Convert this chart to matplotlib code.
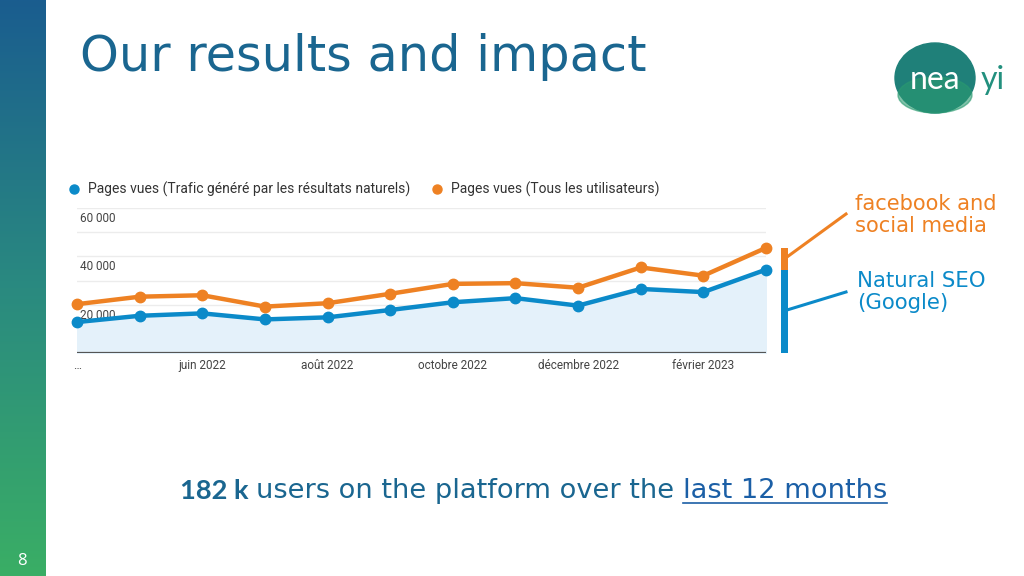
import numpy as np
import matplotlib
matplotlib.use("Agg")
import matplotlib.pyplot as plt
from matplotlib.patches import Ellipse
from matplotlib.colors import LinearSegmentedColormap
import matplotlib.transforms as mtransforms

# ------------------------------------------------------------------
# Data – monthly page views
# ------------------------------------------------------------------
months = ["avr. 2022", "mai 2022", "juin 2022", "juil. 2022", "août 2022", "sept. 2022",
          "octobre 2022", "nov. 2022", "décembre 2022", "janv. 2023", "février 2023", "mars 2023"]
seo_views = [12800, 15400, 16400, 13900, 14750, 17800, 21000, 22700, 19600, 26500, 25200, 34500]
all_views = [20200, 23300, 23900, 19200, 20600, 24500, 28600, 28900, 27000, 35400, 32000, 43500]
shown_ticks = [0, 2, 4, 6, 8, 10]
tick_labels = ["…", "juin 2022", "août 2022", "octobre 2022", "décembre 2022", "février 2023"]
y_labels = [20000, 40000, 60000]

legend_seo = "Pages vues (Trafic généré par les résultats naturels)"
legend_all = "Pages vues (Tous les utilisateurs)"

BLUE = "#0b8ac9"
ORANGE = "#ee8123"
TITLE = "#1a6690"
SLIDE_FONT = "DejaVu Sans"

W, H = 1024, 576
fig = plt.figure(figsize=(W / 100, H / 100), dpi=100)
fig.patch.set_facecolor("white")
fig.canvas.draw()
r = fig.canvas.get_renderer()


def fx(px):
    return px / W


def fy(py):
    return 1 - py / H


def fit(t, width_px):
    # scale the font so the text spans the wanted width
    w = t.get_window_extent(r).width
    t.set_fontsize(t.get_fontsize() * width_px / w)
    return t


# ------------------------------------------------------------------
# Left gradient band
# ------------------------------------------------------------------
band = fig.add_axes([0, 0, fx(46), 1])
cmap = LinearSegmentedColormap.from_list("band", ["#1a5d8f", "#2a8a80", "#3aae65"])
band.imshow(np.linspace(0, 1, 256).reshape(-1, 1), aspect="auto", cmap=cmap,
            extent=[0, 1, 0, 1], origin="upper")
band.axis("off")
fig.text(fx(22), fy(561), "8", color="white", fontsize=12, ha="center", va="center",
         family="Open Sans")

# Title
fit(fig.text(fx(80), fy(57), "Our results and impact", color=TITLE, fontsize=30,
             family=SLIDE_FONT, ha="left", va="center"), 566)

# ------------------------------------------------------------------
# Logo (approximation)
# ------------------------------------------------------------------
logo = fig.add_axes([fx(885), fy(125), fx(135), 90 / H])
logo.set_xlim(0, 135)
logo.set_ylim(0, 90)
logo.axis("off")
logo.add_patch(Ellipse((50, 47), 80, 70, color="#1f8079"))
logo.add_patch(Ellipse((50, 30), 74, 36, color="#2a9a70", alpha=0.6))
logo.text(50, 45, "nea", color="white", fontsize=23, ha="center", va="center", family="Lato")
logo.text(108, 45, "yi", color="#22907e", fontsize=23, ha="center", va="center", family="Lato")

# ------------------------------------------------------------------
# Chart
# ------------------------------------------------------------------
ax = fig.add_axes([fx(77), fy(353), fx(766 - 77), (353 - 208) / H])
x = np.arange(len(months))

for v in range(10000, 60001, 10000):
    ax.axhline(v, color="#ececec", lw=1, zorder=0)
ax.axhline(0, color="#555555", lw=1.6, zorder=3)

ax.fill_between(x, seo_views, color="#e4f1fa", zorder=1)
ax.plot(x, seo_views, color=BLUE, lw=3.2, marker="o", ms=7.5, zorder=4, clip_on=False)
ax.plot(x, all_views, color=ORANGE, lw=3.2, marker="o", ms=7.5, zorder=4, clip_on=False)

ax.set_xlim(0, len(months) - 1)
ax.set_ylim(0, 60000)
for s in ax.spines.values():
    s.set_visible(False)
ax.set_yticks([])
ax.set_xticks([])

# y labels sit inside the plot, under their gridline
trans = mtransforms.blended_transform_factory(ax.transAxes, ax.transData)
shift = mtransforms.ScaledTranslation(0, -3 / 72, fig.dpi_scale_trans)
for v in y_labels:
    ax.text(0.005, v, f"{v:,}".replace(",", " "), transform=trans + shift, fontsize=8.5,
            color="#444444", ha="left", va="top", family="Roboto")

# x labels
for i, lab in zip(shown_ticks, tick_labels):
    ax.text(x[i], -2300, lab, fontsize=8.5, color="#444444", ha="center", va="top",
            family="Roboto", clip_on=False)

# stacked marker bar to the right of the chart, from the last values
bx = len(months) - 1 + 0.29
ax.bar([bx], [seo_views[-1]], width=0.11, color=BLUE, clip_on=False, zorder=2)
ax.bar([bx], [all_views[-1] - seo_views[-1]], bottom=[seo_views[-1]], width=0.11,
       color=ORANGE, clip_on=False, zorder=2)

# legend
fig.add_artist(plt.Line2D([fx(74)], [fy(189)], marker="o", ms=6.5, color=BLUE,
                          transform=fig.transFigure))
fig.text(fx(88), fy(189), legend_seo, fontsize=10, color="#333333", va="center",
         family="Roboto")
fig.add_artist(plt.Line2D([fx(437)], [fy(189)], marker="o", ms=6.5, color=ORANGE,
                          transform=fig.transFigure))
fig.text(fx(451), fy(189), legend_all, fontsize=10, color="#333333", va="center",
         family="Roboto")

# annotations on the right
fig.add_artist(plt.Line2D([fx(787), fx(846)], [fy(257), fy(214)], color=ORANGE, lw=2.2,
                          transform=fig.transFigure))
fig.add_artist(plt.Line2D([fx(787), fx(846)], [fy(310), fy(292)], color=BLUE, lw=2.2,
                          transform=fig.transFigure))
fit(fig.text(fx(855), fy(215), "facebook and\nsocial media", color=ORANGE, fontsize=14,
             family=SLIDE_FONT, va="center", linespacing=1.1), 143)
fit(fig.text(fx(857), fy(292), "Natural SEO\n(Google)", color=BLUE, fontsize=14,
             family=SLIDE_FONT, va="center", linespacing=1.1), 129)

# bottom sentence
t2 = fig.text(0, fy(491), "users on the platform over the", color=TITLE,
              fontsize=18, family=SLIDE_FONT, va="center")
fit(t2, 418)
size = t2.get_fontsize()
t1 = fig.text(fx(180), fy(491), "182 k", color=TITLE, fontsize=size, family="Lato",
              weight="bold", va="center")
bb = t1.get_window_extent(r)
t2.set_x(bb.x1 / W + fx(8))
bb2 = t2.get_window_extent(r)
t3 = fig.text(bb2.x1 / W + fx(8), fy(491), "last 12 months", color="#1b5fa6",
              fontsize=size, family=SLIDE_FONT, va="center")
bb3 = t3.get_window_extent(r)
fig.add_artist(plt.Line2D([bb3.x0 / W, bb3.x1 / W], [fy(503), fy(503)], color="#1b5fa6",
                          lw=1.2, transform=fig.transFigure))

fig.savefig("out.png", dpi=100, facecolor="white")
